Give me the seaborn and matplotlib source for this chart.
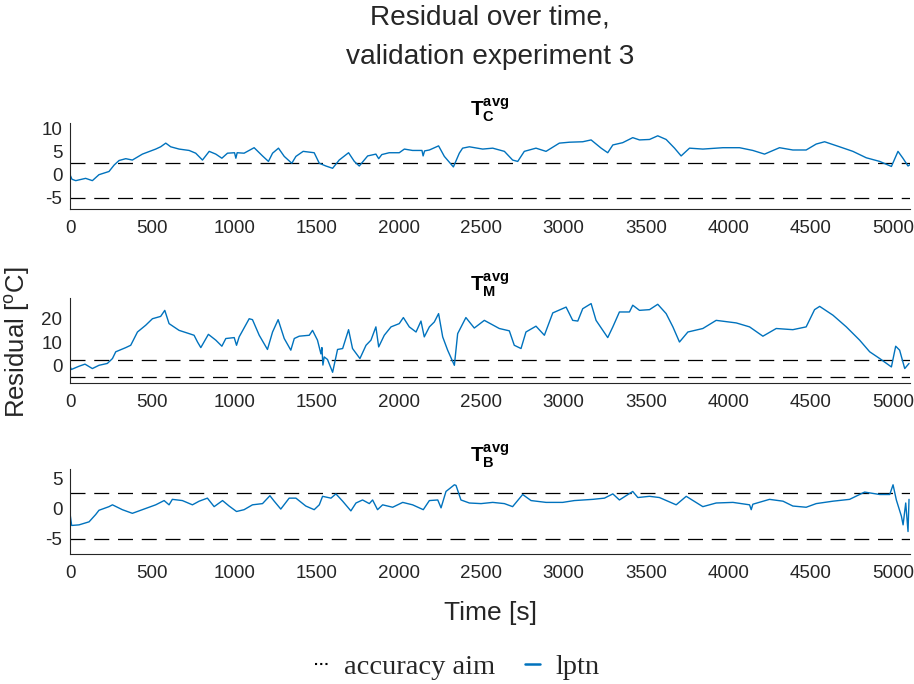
import matplotlib
matplotlib.use("Agg")
import matplotlib.pyplot as plt
import pandas as pd
import seaborn as sns

# ---- residual traces (time in s, residual in degC) ----
t_C = [0, 12, 35, 95, 136, 176, 237, 268, 298, 339, 379, 440, 521, 551, 582, 612, 663, 724,
       764, 805, 846, 886, 923, 957, 1000, 1008, 1016, 1058, 1119, 1170, 1206, 1231, 1267,
       1302, 1348, 1373, 1417, 1484, 1515, 1555, 1596, 1636, 1693, 1728, 1758, 1809, 1859,
       1876, 1895, 1940, 2001, 2032, 2082, 2139, 2146, 2155, 2184, 2240, 2275, 2330, 2366,
       2386, 2427, 2508, 2569, 2640, 2690, 2721, 2761, 2832, 2893, 2974, 3035, 3116, 3167,
       3228, 3268, 3299, 3359, 3420, 3461, 3522, 3572, 3623, 3674, 3714, 3765, 3846, 3968,
       4069, 4150, 4221, 4312, 4393, 4474, 4535, 4586, 4677, 4758, 4839, 4921, 4992, 5032,
       5062, 5093, 5105]
r_C = [0.0, -1.0, -1.3, -0.8, -1.3, 0.0, 0.7, 2.1, 3.1, 3.5, 3.2, 4.5, 5.6, 6.1, 6.9, 6.1, 5.6,
       5.3, 4.7, 3.2, 5.1, 4.5, 3.6, 4.7, 4.8, 3.6, 4.8, 4.7, 5.9, 4.1, 2.9, 4.7, 5.8, 4.0, 2.5,
       4.0, 5.1, 4.8, 2.5, 1.9, 1.4, 3.2, 4.8, 2.9, 1.9, 4.1, 4.5, 3.5, 4.4, 4.8, 4.8, 5.6, 5.3,
       5.3, 4.1, 5.2, 5.4, 6.3, 4.0, 1.7, 4.7, 5.8, 6.1, 5.6, 5.8, 5.1, 3.2, 2.9, 5.1, 5.8, 5.1,
       6.9, 7.1, 7.2, 7.6, 5.8, 4.8, 6.5, 7.0, 8.1, 7.6, 7.7, 8.5, 7.7, 5.8, 4.1, 5.8, 5.6, 5.9,
       5.9, 5.3, 4.5, 5.9, 5.4, 5.4, 6.7, 7.2, 6.1, 5.1, 3.7, 2.9, 1.8, 5.1, 3.6, 1.9, 2.2]

t_M = [0, 8, 55, 91, 136, 176, 227, 258, 278, 339, 369, 410, 460, 501, 551, 576, 602, 663, 724,
       754, 775, 795, 841, 886, 923, 947, 998, 1012, 1028, 1089, 1109, 1150, 1200, 1231, 1265,
       1302, 1342, 1363, 1393, 1454, 1474, 1504, 1525, 1531, 1537, 1545, 1565, 1596, 1626,
       1657, 1693, 1717, 1762, 1799, 1829, 1859, 1876, 1910, 1951, 2001, 2026, 2062, 2103,
       2133, 2153, 2184, 2214, 2240, 2265, 2295, 2336, 2356, 2406, 2457, 2518, 2609, 2670,
       2700, 2741, 2771, 2832, 2883, 2934, 3015, 3055, 3086, 3116, 3167, 3197, 3268, 3299,
       3339, 3400, 3420, 3461, 3522, 3572, 3623, 3664, 3704, 3755, 3846, 3927, 4049, 4130,
       4211, 4292, 4393, 4474, 4525, 4556, 4637, 4718, 4799, 4860, 4921, 4992, 5018, 5042,
       5073, 5099]
r_M = [-0.3, -1.7, -0.3, 0.6, -1.3, 0.1, 0.9, 3.0, 5.9, 7.7, 8.7, 14.4, 17.3, 20.1, 21.1, 23.7,
       18.0, 15.1, 13.7, 13.0, 10.1, 7.7, 13.4, 10.9, 8.3, 11.6, 12.0, 8.7, 12.3, 20.1, 19.7,
       13.0, 6.9, 14.4, 19.7, 11.6, 6.6, 11.6, 12.6, 13.0, 15.1, 10.9, 5.0, 7.7, 0.2, 3.7, 2.6,
       -2.9, 6.9, 7.3, 15.4, 7.3, 3.0, 8.7, 10.9, 16.6, 8.0, 13.0, 16.6, 18.0, 20.6, 16.6, 14.4,
       19.1, 12.3, 16.6, 18.7, 22.3, 12.3, 6.6, 0.1, 13.7, 20.6, 16.1, 19.4, 15.9, 14.9, 8.7,
       7.3, 14.4, 16.9, 13.0, 22.6, 25.1, 19.4, 19.1, 24.4, 26.6, 19.4, 12.0, 16.6, 23.0, 23.0,
       25.9, 23.7, 24.0, 26.3, 22.3, 16.6, 10.1, 14.4, 15.9, 19.4, 18.3, 16.6, 12.6, 15.9,
       15.4, 16.6, 24.0, 25.4, 21.6, 16.6, 10.9, 5.9, 3.0, -0.6, 8.3, 6.6, -1.3, 0.9]

t_B = [0, 10, 55, 116, 156, 176, 237, 258, 318, 379, 460, 521, 572, 602, 622, 683, 744, 785,
       835, 876, 927, 967, 1012, 1058, 1109, 1170, 1215, 1241, 1281, 1332, 1373, 1433, 1484,
       1515, 1535, 1586, 1616, 1657, 1707, 1738, 1778, 1819, 1839, 1869, 1900, 1961, 2022,
       2082, 2147, 2184, 2235, 2255, 2285, 2336, 2346, 2376, 2427, 2498, 2569, 2640, 2690,
       2751, 2802, 2893, 2994, 3065, 3177, 3248, 3299, 3339, 3420, 3451, 3522, 3582, 3684,
       3745, 3846, 3927, 4029, 4130, 4140, 4150, 4251, 4333, 4393, 4474, 4535, 4637, 4738,
       4829, 4921, 4982, 5002, 5022, 5053, 5063, 5079, 5093, 5099]
r_B = [-0.8, -2.8, -2.7, -2.2, -1.0, -0.3, 0.3, 0.6, -0.2, -0.8, 0.0, 0.6, 1.3, 0.6, 1.5, 1.3,
       0.6, 1.2, 1.7, 0.3, 1.3, 0.4, -0.5, -0.2, 0.6, 0.8, 2.1, 1.2, -0.1, 1.7, 1.7, 0.4, -0.2,
       0.6, 2.0, 1.7, 2.4, 1.2, -0.4, 0.9, 1.4, 0.8, 1.4, -0.2, 0.6, 0.2, 1.0, 0.6, -0.2, 1.3,
       1.4, 0.1, 2.8, 3.9, 3.8, 1.4, 0.9, 0.8, 1.0, 0.8, 0.3, 2.3, 1.3, 1.0, 1.0, 1.3, 1.5, 1.7,
       2.4, 1.4, 2.8, 1.8, 2.0, 1.8, 0.6, 2.0, 0.3, 0.9, 1.0, 0.6, -0.2, 0.7, 1.5, 1.2, 0.4,
       0.2, 0.8, 1.2, 1.5, 2.7, 2.3, 2.3, 3.9, 1.4, -1.3, -2.7, 0.9, -3.8, 1.5]

aim_upper = 2.5
aim_lower = -5.0

panel_names = ["C", "M", "B"]
x_ticks = [0, 500, 1000, 1500, 2000, 2500, 3000, 3500, 4000, 4500, 5000]
y_ticks = [[-5, 0, 5, 10], [0, 10, 20], [-5, 0, 5]]
y_limits = [(-7.5, 11.3), (-7.5, 29.0), (-7.5, 6.5)]
x_limit = (0, 5105)

series = [(t_C, r_C), (t_M, r_M), (t_B, r_B)]

sns.set_theme(style="white")
plt.rcParams["font.family"] = ["Liberation Sans", "DejaVu Sans"]
plt.rcParams["axes.unicode_minus"] = False
plt.rcParams["mathtext.fontset"] = "custom"
plt.rcParams["mathtext.rm"] = "Liberation Sans"
plt.rcParams["mathtext.bf"] = "Liberation Sans:bold"
plt.rcParams["mathtext.it"] = "Liberation Sans:italic"

blue = "#0072BD"
ink = "#262626"

fig = plt.figure(figsize=(9.14, 6.84), dpi=100)
W, H = 914, 684
left, right = 70, 910
rows = [(123, 209), (298, 383), (469, 554)]

axes = []
for i, ((top, bot), (t, r)) in enumerate(zip(rows, series)):
    ax = fig.add_axes([left / W, 1 - bot / H, (right - left) / W, (bot - top) / H])
    axes.append(ax)
    lbl = "accuracy aim" if i == 0 else None
    ax.axhline(aim_upper, color="black", lw=0.9, dashes=(12, 7), label=lbl)
    ax.axhline(aim_lower, color="black", lw=0.9, dashes=(12, 7))
    df = pd.DataFrame({"time": t, "residual": r})
    sns.lineplot(data=df, x="time", y="residual", ax=ax, color=blue, lw=1.0,
                 label="lptn" if i == 0 else None, legend=False)
    ax.set_xlim(*x_limit)
    ax.set_ylim(*y_limits[i])
    ax.set_xticks(x_ticks)
    ax.set_yticks(y_ticks[i])
    ax.set_xlabel("")
    ax.set_ylabel("")
    ax.tick_params(direction="in", length=4, width=0.8, colors=ink, labelsize=13.5,
                   labelcolor=ink)
    ax.tick_params(axis="x", pad=8)
    ax.tick_params(axis="y", pad=5.5)
    sns.despine(ax=ax)
    for s in ("left", "bottom"):
        ax.spines[s].set_color(ink)
        ax.spines[s].set_linewidth(0.8)
    ax.set_title(r"$\mathbf{T}_{\mathbf{%s}}^{\mathbf{avg}}$" % panel_names[i],
                 fontsize=15, color="black", pad=5)

fig.suptitle("Residual over time,\nvalidation experiment 3", x=490 / W, y=1 - 5 / H,
             va="top", fontsize=20.2, color=ink, linespacing=1.63)
fig.text(18 / W, 1 - 342 / H, r"Residual [$^{\mathrm{o}}$C]", rotation=90,
         ha="center", va="center", fontsize=18.5, color=ink)
fig.text(490 / W, 1 - 620 / H, "Time [s]", ha="center", va="baseline",
         fontsize=19, color=ink)

handles, labels = axes[0].get_legend_handles_labels()
leg = fig.legend(handles, labels, loc="center", bbox_to_anchor=(0.5, 1 - 667 / H),
                 ncol=2, frameon=False, handlelength=0.5, handletextpad=0.55,
                 columnspacing=1.05, prop={"family": "Liberation Serif", "size": 20.5})
leg.get_lines()[0].set_linestyle((0, (1, 1.5)))
leg.get_lines()[0].set_linewidth(1.5)
leg.get_lines()[1].set_linewidth(1.8)

fig.savefig("out.png", dpi=100)
